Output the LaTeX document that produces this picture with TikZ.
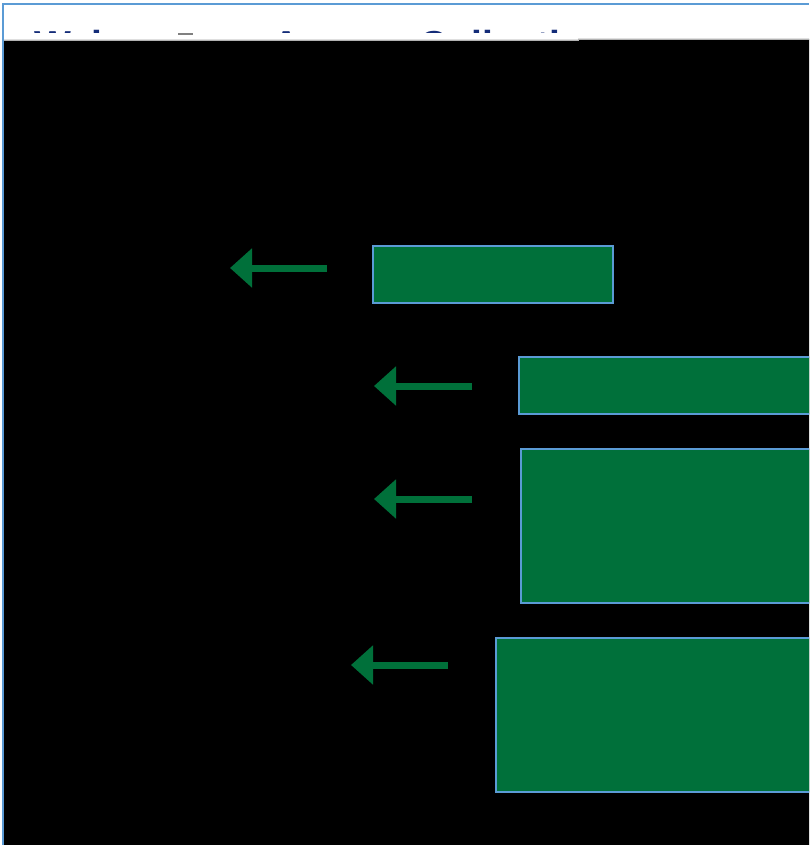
\documentclass[tikz,border=0pt]{standalone}
\usepackage{fontspec}
\setmainfont{Liberation Sans}
\usetikzlibrary{arrows.meta}
\definecolor{gfill}{RGB}{0,112,58}
\definecolor{bline}{RGB}{91,155,213}
\definecolor{navy}{RGB}{20,44,120}
\tikzset{
  x=1pt, y=-1pt,
  gbox/.style={draw=bline, line width=1.5pt, fill=gfill, inner sep=0pt, anchor=north west},
  garrow/.style={draw=gfill, line width=7pt, -{Triangle[length=22pt,width=38pt]}},
  ttl/.style={font=\bfseries\fontsize{39pt}{44pt}\selectfont, text=navy, inner sep=0pt, anchor=base west}
}
\begin{document}
\begin{tikzpicture}
\useasboundingbox (0,0) rectangle (809,845);
\clip (0,0) rectangle (809,845);
\fill[white] (0,0) rectangle (809,845);
% title, only the tops of its letters show
\begin{scope}
\clip (0,0) rectangle (809,33);
\node[ttl] (t1) at (34,58.5) {Web};
\node[ttl] (t2) at (272,58.5) {Access Collection};
\end{scope}
\draw[gray, line width=1.5pt] (178,34) -- (193,34);
% frame lines
\draw[bline, line width=1.5pt] (3,845) -- (3,4) -- (809,4);
% black panel
\fill[black] (4,40) -- (578,40) -- (578,39) -- (809,39) -- (809,845) -- (4,845) -- cycle;
\draw[gray!60, line width=0.8pt] (4,40) -- (578,40) -- (578,39) -- (809,39);
% boxes
\node[gbox, minimum width=240pt, minimum height=57pt] (b1) at (372,245) {};
\node[gbox, minimum width=340pt, minimum height=57pt] (b2) at (518,356) {};
\node[gbox, minimum width=340pt, minimum height=154pt] (b3) at (520,448) {};
\node[gbox, minimum width=360pt, minimum height=154pt] (b4) at (495,637) {};
% arrows
\coordinate (s1) at (327,268); \coordinate (e1) at (230,268);
\coordinate (s2) at (472,386); \coordinate (e2) at (374,386);
\coordinate (s3) at (472,499); \coordinate (e3) at (374,499);
\coordinate (s4) at (448,665); \coordinate (e4) at (351,665);
\draw[garrow] (s1) -- (e1);
\draw[garrow] (s2) -- (e2);
\draw[garrow] (s3) -- (e3);
\draw[garrow] (s4) -- (e4);
\end{tikzpicture}
\end{document}
